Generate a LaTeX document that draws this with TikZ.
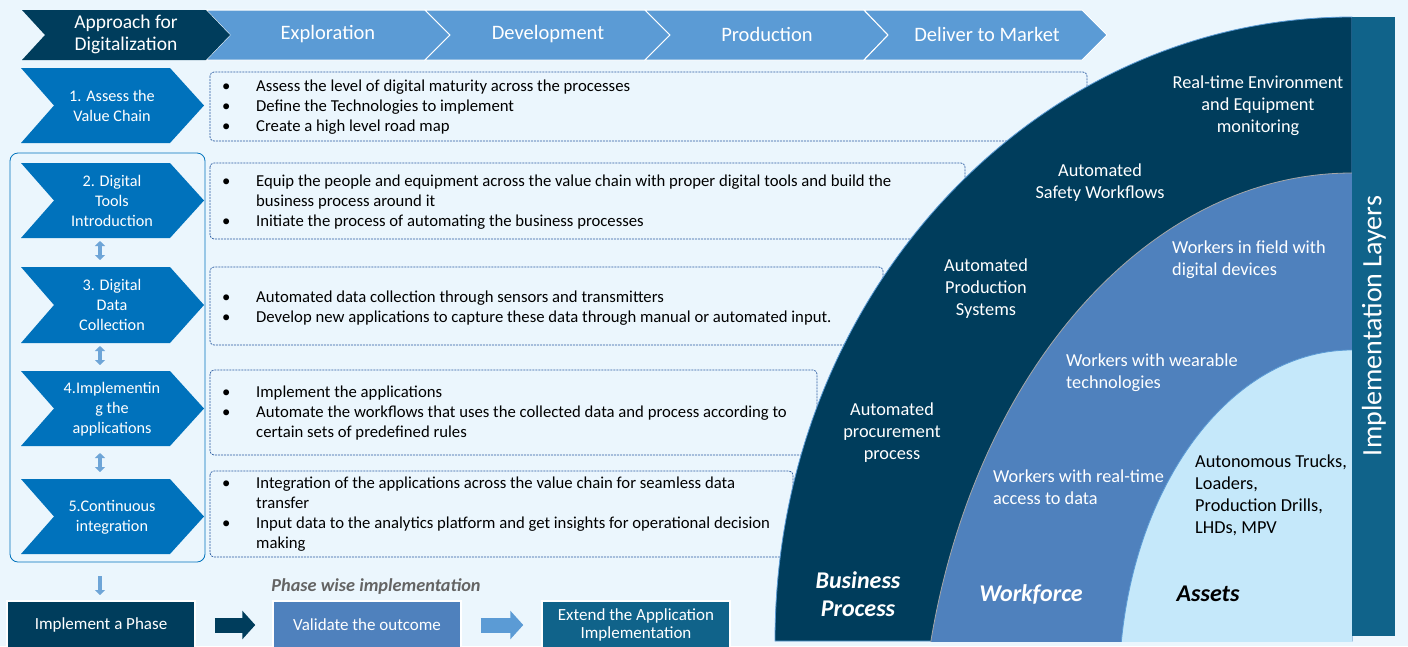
\documentclass[tikz,border=0pt]{standalone}
\usepackage{fontspec}
\setmainfont{Carlito}
\usetikzlibrary{arrows.meta}
\definecolor{bg}{RGB}{235,246,253}
\definecolor{navy}{RGB}{0,61,92}
\definecolor{lblue}{RGB}{91,155,213}
\definecolor{sblue}{RGB}{0,114,188}
\definecolor{mblue}{RGB}{79,129,189}
\definecolor{pale}{RGB}{197,232,250}
\definecolor{barblue}{RGB}{16,99,138}
\definecolor{dashblue}{RGB}{40,90,160}
\definecolor{arrblue}{RGB}{110,165,215}
\definecolor{phgray}{RGB}{100,100,100}
\newcommand\chevron[7]{\filldraw[#7] (#1,#3) -- (#2,#3) -- ({#2+#6},{(#3+#4)/2}) -- (#2,#4) -- (#1,#4) -- ({#1+#5},{(#3+#4)/2}) -- cycle;}
\newcommand\bul{\textbullet}
\begin{document}
\begin{tikzpicture}[x=1pt,y=-1pt,
  txt/.style={font=\fontsize{16.7}{20.2}\selectfont, inner sep=0pt},
  steptxt/.style={font=\fontsize{16.2}{20}\selectfont, inner sep=0pt, text=white, align=center},
  hdr/.style={font=\fontsize{20.5}{22}\selectfont, inner sep=0pt, text=white, align=center},
  dbox/.style={draw=dashblue, line width=0.7pt, rounded corners=4pt, dash pattern=on 2pt off 1pt},
  arctxt/.style={font=\fontsize{18.3}{22}\selectfont, inner sep=0pt, text=white},
  layer/.style={font=\fontsize{24}{28}\selectfont\bfseries\itshape, inner sep=0pt, align=center},
  bbox/.style={draw=white, line width=1.5pt, minimum width=188pt, minimum height=48pt, inner sep=0pt, text=white, align=center, font=\fontsize{17}{18}\selectfont},
  darr/.style={draw=arrblue, line width=4pt, {Triangle[width=10pt,length=5pt]}-{Triangle[width=10pt,length=5pt]}},
  bigarr/.style={line width=15pt, -{Triangle[width=28pt,length=13pt]}}
]
\useasboundingbox (0,0) rectangle (1408,646);
\fill[bg] (0,0) rectangle (1408,646);

% top chevrons
\chevron{206}{425}{10}{60}{24}{25}{fill=lblue, draw=white, line width=1pt}
\chevron{425}{645}{10}{60}{25}{25}{fill=lblue, draw=white, line width=1pt}
\chevron{645}{864}{10}{60}{25}{24}{fill=lblue, draw=white, line width=1pt}
\chevron{864}{1082}{10}{60}{24}{25}{fill=lblue, draw=white, line width=1pt}
\chevron{22}{206}{10}{60}{23}{24}{fill=navy, draw=none}
\node[hdr, font=\fontsize{19.5}{22}\selectfont] (h0) at (126,34) {Approach for\\Digitalization};
\node[hdr] (h1) at (328,34) {Exploration};
\node[hdr] (h2) at (548,34) {Development};
\node[hdr] (h3) at (767,34) {Production};
\node[hdr] (h4) at (987,34) {Deliver to Market};

% dashed boxes
\draw[dbox] (210,72) rectangle (1087,141);
\draw[dbox] (210,163) rectangle (965,239);
\draw[dbox] (210,267) rectangle (883,345);
\draw[dbox] (210,370) rectangle (817,455);
\draw[dbox] (210,471) rectangle (793,557);

\node[txt, anchor=base west] (t1) at (222,91) {\begin{tabular}[t]{@{}p{34pt}@{}l@{}}
\bul & Assess the level of digital maturity across the processes\\
\bul & Define the Technologies to implement\\
\bul & Create a high level road map\end{tabular}};
\node[txt, anchor=base west] (t2) at (222,186) {\begin{tabular}[t]{@{}p{34pt}@{}l@{}}
\bul & Equip the people and equipment across the value chain with proper digital tools and build the\\
 & business process around it\\
\bul & Initiate the process of automating the business processes\end{tabular}};
\node[txt, anchor=base west] (t3) at (222,302) {\begin{tabular}[t]{@{}p{34pt}@{}l@{}}
\bul & Automated data collection through sensors and transmitters\\
\bul & Develop new applications to capture these data through manual or automated input.\end{tabular}};
\node[txt, anchor=base west] (t4) at (222,397) {\begin{tabular}[t]{@{}p{34pt}@{}l@{}}
\bul & Implement the applications\\
\bul & Automate the workflows that uses the collected data and process according to\\
 & certain sets of predefined rules\end{tabular}};
\node[txt, anchor=base west] (t5) at (222,488) {\begin{tabular}[t]{@{}p{34pt}@{}l@{}}
\bul & Integration of the applications across the value chain for seamless data\\
 & transfer\\
\bul & Input data to the analytics platform and get insights for operational decision\\
 & making\end{tabular}};

% left steps
\draw[sblue, line width=0.8pt, rounded corners=8pt] (10,153) rectangle (205,562);
\chevron{21}{170}{68}{143}{33}{34}{fill=sblue, draw=none}
\chevron{21}{170}{163}{238}{33}{34}{fill=sblue, draw=none}
\chevron{21}{170}{267}{343}{33}{34}{fill=sblue, draw=none}
\chevron{21}{170}{371}{446}{33}{34}{fill=sblue, draw=none}
\chevron{21}{170}{479}{554}{33}{34}{fill=sblue, draw=none}
\node[steptxt] (s1) at (112,106) {1. Assess the\\Value Chain};
\node[steptxt] (s2) at (112,201) {2. Digital\\Tools\\Introduction};
\node[steptxt] (s3) at (112,305) {3. Digital\\Data\\Collection};
\node[steptxt] (s4) at (112,409) {4.Implementin\\g the\\applications};
\node[steptxt] (s5) at (112,517) {5.Continuous\\integration};
\coordinate (a1) at (100,241); \coordinate (a2) at (100,260);
\coordinate (a3) at (100,346); \coordinate (a4) at (100,365);
\coordinate (a5) at (100,453); \coordinate (a6) at (100,472);
\coordinate (d1) at (100,576); \coordinate (d2) at (100,595);
\draw[darr] (a1) -- (a2);
\draw[darr] (a3) -- (a4);
\draw[darr] (a5) -- (a6);
\draw[draw=arrblue, line width=4pt, -{Triangle[width=10pt,length=5pt]}] (d1) -- (d2);

% bottom row
\node[bbox, fill=navy] (p1) at (101,625) {Implement a Phase};
\node[bbox, fill=mblue] (p2) at (367,625) {Validate the outcome};
\node[bbox, fill=barblue] (p3) at (636,625) {Extend the Application\\Implementation};
\draw[bigarr, navy, shorten <=19pt, shorten >=17pt] (p1) -- (p2);
\draw[bigarr, lblue, shorten <=19pt, shorten >=18pt] (p2) -- (p3);
\node[font=\fontsize{18.3}{20}\selectfont\bfseries\itshape, text=phgray, inner sep=0pt] (pw) at (376,587) {Phase wise implementation};

% arcs
\filldraw[fill=navy, draw=lblue, line width=0.8pt] (1352,641) -- (775,641) arc[start angle=180, end angle=270, x radius=577, y radius=624] -- cycle;
\begin{scope}
  \clip (700,0) rectangle (1352,641);
  \filldraw[fill=mblue, draw=gray!70, line width=0.8pt] (1352,780) ellipse[x radius=432.5, y radius=607];
  \filldraw[fill=pale, draw=lblue, line width=0.8pt] (1352,690) ellipse[x radius=233, y radius=340];
\end{scope}

% bar
\fill[barblue] (1352,17) rectangle (1395,636);
\node[rotate=90, font=\fontsize{28}{30}\selectfont, text=white, inner sep=0pt] (impl) at (1374,326) {Implementation Layers};

% arc texts
\node[arctxt, align=center] (r1) at (1258,106) {Real-time Environment\\and Equipment\\monitoring};
\node[arctxt, align=center] (r2) at (1100,183) {Automated\\Safety Workflows};
\node[arctxt, align=center] (r3) at (986,289) {Automated\\Production\\Systems};
\node[arctxt, align=center] (r4) at (892,433) {Automated\\procurement\\process};
\node[layer, text=white] (l1) at (858,594) {Business\\Process};
\node[arctxt, align=left, anchor=west] (w1) at (1172,260) {Workers in field with\\digital devices};
\node[arctxt, align=left, anchor=west] (w2) at (1066,373) {Workers with wearable\\technologies};
\node[arctxt, align=left, anchor=west] (w3) at (993,487) {Workers with real-time\\access to data};
\node[layer, text=white] (l2) at (1031,594) {Workforce};
\node[arctxt, text=black, align=left, anchor=west] (as) at (1195,495) {Autonomous Trucks,\\Loaders,\\Production Drills,\\LHDs, MPV};
\node[layer, text=black] (l3) at (1208,594) {Assets};
\end{tikzpicture}
\end{document}
